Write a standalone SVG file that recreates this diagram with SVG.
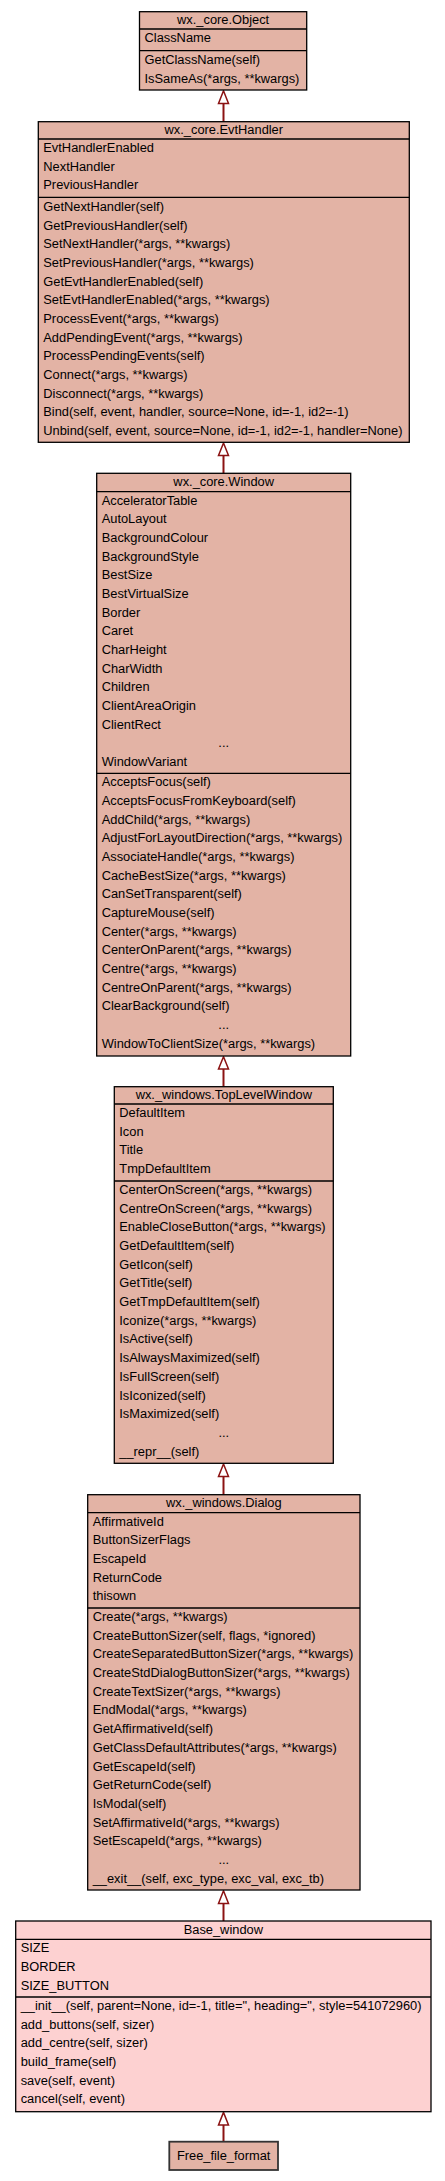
<svg xmlns="http://www.w3.org/2000/svg" width="445" height="2181" viewBox="0 0 445 2181">
<style>
.bg{fill:#ffffff}
.box{fill:#e3b3a5;stroke:#000000;stroke-width:1.3}
.box2{fill:#fdd1d1;stroke:#000000;stroke-width:1.3}
.sep{stroke:#000000;stroke-width:1.3}
text{font-family:"Liberation Sans",Arial,sans-serif;font-size:12.85px;fill:#000000}
.c{text-anchor:middle}
.edge{stroke:#8b1313;stroke-width:2;fill:none}
.head{fill:#ffffff;stroke:#8b1313;stroke-width:1.5}
</style>
<rect class="bg" x="0" y="0" width="445" height="2181"/>
<g id="connectors">
<line class="edge" x1="223.5" y1="121.7" x2="223.5" y2="103.5"/>
<polygon class="head" points="223.5,90.7 218.5,103.5 228.5,103.5"/>
<line class="edge" x1="223.5" y1="473.3" x2="223.5" y2="455.5"/>
<polygon class="head" points="223.5,443 218.5,455.5 228.5,455.5"/>
<line class="edge" x1="223.5" y1="1086.7" x2="223.5" y2="1069"/>
<polygon class="head" points="223.5,1056.7 218.5,1069 228.5,1069"/>
<line class="edge" x1="223.5" y1="1494.7" x2="223.5" y2="1476.5"/>
<polygon class="head" points="223.5,1464 218.5,1476.5 228.5,1476.5"/>
<line class="edge" x1="223.5" y1="1921" x2="223.5" y2="1903.5"/>
<polygon class="head" points="223.5,1890.7 218.5,1903.5 228.5,1903.5"/>
<line class="edge" x1="223.5" y1="2141.7" x2="223.5" y2="2125"/>
<polygon class="head" points="223.5,2112.4 218.5,2125 228.5,2125"/>
</g>
<g id="node-object">
<rect class="box" x="139.5" y="11.7" width="167.2" height="78.3"/>
<line class="sep" x1="139.5" y1="29" x2="306.7" y2="29"/>
<line class="sep" x1="139.5" y1="50.7" x2="306.7" y2="50.7"/>
<text class="c" x="223.1" y="24">wx._core.Object</text>
<text x="144.5" y="42">ClassName</text>
<text x="144.5" y="63.8">GetClassName(self)</text>
<text x="144.5" y="82.5">IsSameAs(*args, **kwargs)</text>
</g>
<g id="node-evthandler">
<rect class="box" x="38.3" y="121.7" width="371" height="320.6"/>
<line class="sep" x1="38.3" y1="139" x2="409.3" y2="139"/>
<line class="sep" x1="38.3" y1="197.3" x2="409.3" y2="197.3"/>
<text class="c" x="223.8" y="133.5">wx._core.EvtHandler</text>
<text x="43.3" y="152">EvtHandlerEnabled</text>
<text x="43.3" y="170.7">NextHandler</text>
<text x="43.3" y="189.4">PreviousHandler</text>
<text x="43.3" y="210.8">GetNextHandler(self)</text>
<text x="43.3" y="229.5">GetPreviousHandler(self)</text>
<text x="43.3" y="248.2">SetNextHandler(*args, **kwargs)</text>
<text x="43.3" y="266.8">SetPreviousHandler(*args, **kwargs)</text>
<text x="43.3" y="285.5">GetEvtHandlerEnabled(self)</text>
<text x="43.3" y="304.2">SetEvtHandlerEnabled(*args, **kwargs)</text>
<text x="43.3" y="322.9">ProcessEvent(*args, **kwargs)</text>
<text x="43.3" y="341.6">AddPendingEvent(*args, **kwargs)</text>
<text x="43.3" y="360.2">ProcessPendingEvents(self)</text>
<text x="43.3" y="378.9">Connect(*args, **kwargs)</text>
<text x="43.3" y="397.6">Disconnect(*args, **kwargs)</text>
<text x="43.3" y="416.3">Bind(self, event, handler, source=None, id=-1, id2=-1)</text>
<text x="43.3" y="435">Unbind(self, event, source=None, id=-1, id2=-1, handler=None)</text>
</g>
<g id="node-window">
<rect class="box" x="96.7" y="473.3" width="254" height="582.7"/>
<line class="sep" x1="96.7" y1="491.7" x2="350.7" y2="491.7"/>
<line class="sep" x1="96.7" y1="773.3" x2="350.7" y2="773.3"/>
<text class="c" x="223.7" y="486.3">wx._core.Window</text>
<text x="101.7" y="504.5">AcceleratorTable</text>
<text x="101.7" y="523.2">AutoLayout</text>
<text x="101.7" y="541.9">BackgroundColour</text>
<text x="101.7" y="560.5">BackgroundStyle</text>
<text x="101.7" y="579.2">BestSize</text>
<text x="101.7" y="597.9">BestVirtualSize</text>
<text x="101.7" y="616.6">Border</text>
<text x="101.7" y="635.3">Caret</text>
<text x="101.7" y="653.9">CharHeight</text>
<text x="101.7" y="672.6">CharWidth</text>
<text x="101.7" y="691.3">Children</text>
<text x="101.7" y="710">ClientAreaOrigin</text>
<text x="101.7" y="728.7">ClientRect</text>
<text class="c" x="223.7" y="747.3">...</text>
<text x="101.7" y="766">WindowVariant</text>
<text x="101.7" y="786.1">AcceptsFocus(self)</text>
<text x="101.7" y="804.8">AcceptsFocusFromKeyboard(self)</text>
<text x="101.7" y="823.5">AddChild(*args, **kwargs)</text>
<text x="101.7" y="842.2">AdjustForLayoutDirection(*args, **kwargs)</text>
<text x="101.7" y="860.8">AssociateHandle(*args, **kwargs)</text>
<text x="101.7" y="879.5">CacheBestSize(*args, **kwargs)</text>
<text x="101.7" y="898.2">CanSetTransparent(self)</text>
<text x="101.7" y="916.9">CaptureMouse(self)</text>
<text x="101.7" y="935.6">Center(*args, **kwargs)</text>
<text x="101.7" y="954.2">CenterOnParent(*args, **kwargs)</text>
<text x="101.7" y="972.9">Centre(*args, **kwargs)</text>
<text x="101.7" y="991.6">CentreOnParent(*args, **kwargs)</text>
<text x="101.7" y="1010.3">ClearBackground(self)</text>
<text class="c" x="223.7" y="1029">...</text>
<text x="101.7" y="1047.6">WindowToClientSize(*args, **kwargs)</text>
</g>
<g id="node-toplevelwindow">
<rect class="box" x="114.3" y="1086.7" width="219" height="376.6"/>
<line class="sep" x1="114.3" y1="1104" x2="333.3" y2="1104"/>
<line class="sep" x1="114.3" y1="1181" x2="333.3" y2="1181"/>
<text class="c" x="223.8" y="1098.8">wx._windows.TopLevelWindow</text>
<text x="119.3" y="1117">DefaultItem</text>
<text x="119.3" y="1135.7">Icon</text>
<text x="119.3" y="1154.4">Title</text>
<text x="119.3" y="1173.1">TmpDefaultItem</text>
<text x="119.3" y="1194">CenterOnScreen(*args, **kwargs)</text>
<text x="119.3" y="1212.7">CentreOnScreen(*args, **kwargs)</text>
<text x="119.3" y="1231.4">EnableCloseButton(*args, **kwargs)</text>
<text x="119.3" y="1250">GetDefaultItem(self)</text>
<text x="119.3" y="1268.7">GetIcon(self)</text>
<text x="119.3" y="1287.4">GetTitle(self)</text>
<text x="119.3" y="1306.1">GetTmpDefaultItem(self)</text>
<text x="119.3" y="1324.8">Iconize(*args, **kwargs)</text>
<text x="119.3" y="1343.4">IsActive(self)</text>
<text x="119.3" y="1362.1">IsAlwaysMaximized(self)</text>
<text x="119.3" y="1380.8">IsFullScreen(self)</text>
<text x="119.3" y="1399.5">IsIconized(self)</text>
<text x="119.3" y="1418.2">IsMaximized(self)</text>
<text class="c" x="223.8" y="1436.8">...</text>
<text x="119.3" y="1455.5">__repr__(self)</text>
</g>
<g id="node-dialog">
<rect class="box" x="87.7" y="1494.7" width="272.3" height="395.3"/>
<line class="sep" x1="87.7" y1="1512.7" x2="360" y2="1512.7"/>
<line class="sep" x1="87.7" y1="1608" x2="360" y2="1608"/>
<text class="c" x="223.85" y="1507.3">wx._windows.Dialog</text>
<text x="92.7" y="1525.7">AffirmativeId</text>
<text x="92.7" y="1544.4">ButtonSizerFlags</text>
<text x="92.7" y="1563.1">EscapeId</text>
<text x="92.7" y="1581.8">ReturnCode</text>
<text x="92.7" y="1600.4">thisown</text>
<text x="92.7" y="1621">Create(*args, **kwargs)</text>
<text x="92.7" y="1639.7">CreateButtonSizer(self, flags, *ignored)</text>
<text x="92.7" y="1658.4">CreateSeparatedButtonSizer(*args, **kwargs)</text>
<text x="92.7" y="1677.1">CreateStdDialogButtonSizer(*args, **kwargs)</text>
<text x="92.7" y="1695.7">CreateTextSizer(*args, **kwargs)</text>
<text x="92.7" y="1714.4">EndModal(*args, **kwargs)</text>
<text x="92.7" y="1733.1">GetAffirmativeId(self)</text>
<text x="92.7" y="1751.8">GetClassDefaultAttributes(*args, **kwargs)</text>
<text x="92.7" y="1770.5">GetEscapeId(self)</text>
<text x="92.7" y="1789.1">GetReturnCode(self)</text>
<text x="92.7" y="1807.8">IsModal(self)</text>
<text x="92.7" y="1826.5">SetAffirmativeId(*args, **kwargs)</text>
<text x="92.7" y="1845.2">SetEscapeId(*args, **kwargs)</text>
<text class="c" x="223.85" y="1863.9">...</text>
<text x="92.7" y="1882.5">__exit__(self, exc_type, exc_val, exc_tb)</text>
</g>
<g id="node-base-window">
<rect class="box2" x="15.7" y="1921" width="415.3" height="190.7"/>
<line class="sep" x1="15.7" y1="1939.3" x2="431" y2="1939.3"/>
<line class="sep" x1="15.7" y1="1997" x2="431" y2="1997"/>
<text class="c" x="223.35" y="1934">Base_window</text>
<text x="20.7" y="1952.3">SIZE</text>
<text x="20.7" y="1971">BORDER</text>
<text x="20.7" y="1989.7">SIZE_BUTTON</text>
<text x="20.7" y="2010">__init__(self, parent=None, id=-1, title=", heading=", style=541072960)</text>
<text x="20.7" y="2028.7">add_buttons(self, sizer)</text>
<text x="20.7" y="2047.4">add_centre(self, sizer)</text>
<text x="20.7" y="2066.1">build_frame(self)</text>
<text x="20.7" y="2084.7">save(self, event)</text>
<text x="20.7" y="2103.4">cancel(self, event)</text>
</g>
<g id="node-free-file-format">
<rect class="box" x="169.3" y="2141.7" width="108.7" height="28.3" style="stroke-width:1.8;stroke:#333333"/>
<text class="c" x="223.65" y="2160.3">Free_file_format</text>
</g>
</svg>
